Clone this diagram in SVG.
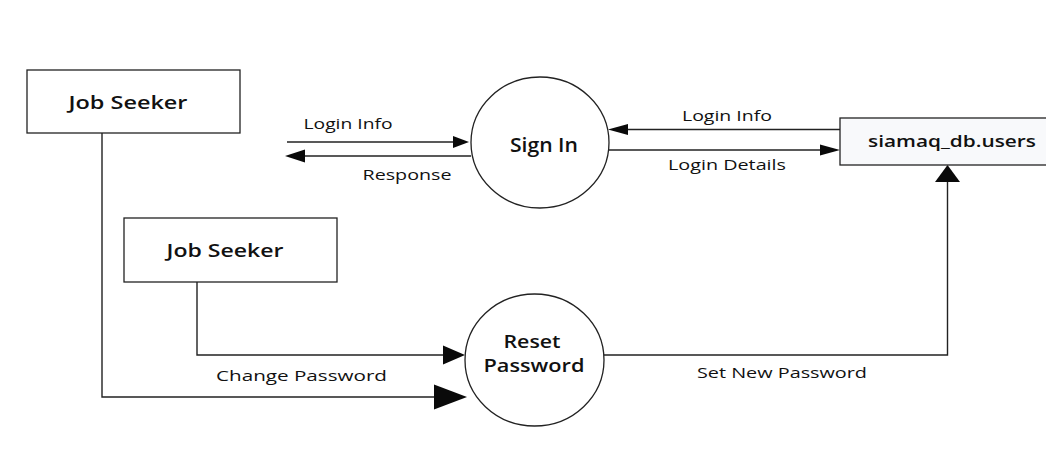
<svg xmlns="http://www.w3.org/2000/svg" width="1046" height="460" viewBox="0 0 1046 460">
<style>
.box{fill:#ffffff;stroke:#222;stroke-width:1.3}
.db{fill:#f8f9fb;stroke:#222;stroke-width:1.3}
.proc{fill:#ffffff;stroke:#222;stroke-width:1.3}
.ln{fill:none;stroke:#222;stroke-width:1.4}
.ah{fill:#0a0a0a;stroke:none}
.nt{font-family:"Open Sans","Noto Sans",sans-serif;font-weight:600;fill:#111;text-anchor:middle}
.lt{font-family:"Open Sans","Noto Sans",sans-serif;font-weight:400;fill:#111;text-anchor:middle;font-size:14.5px}
</style>
<rect width="1046" height="460" fill="#ffffff"/>
<g id="connectors">
  <line class="ln" x1="287" y1="142" x2="455" y2="142"/>
  <polygon class="ah" points="469,142 453,136 453,148"/>
  <line class="ln" x1="471" y1="156" x2="300" y2="156"/>
  <polygon class="ah" points="285,156 305,149.5 305,162.5"/>
  <line class="ln" x1="840" y1="129.5" x2="622" y2="129.5"/>
  <polygon class="ah" points="608,129.5 628,124 628,135"/>
  <line class="ln" x1="609" y1="150" x2="822" y2="150"/>
  <polygon class="ah" points="840,150 820,144.5 820,155.5"/>
  <polyline class="ln" points="604,355 947.5,355 947.5,180"/>
  <polygon class="ah" points="947.5,165 935,182 960,182"/>
  <polyline class="ln" points="197,282 197,355 448,355"/>
  <polygon class="ah" points="465,355 443,345.5 443,364.5"/>
  <polyline class="ln" points="102,133 102,397 440,397"/>
  <polygon class="ah" points="467,397 434,384.5 434,409.5"/>
  <text class="lt" x="348" y="129" textLength="89" lengthAdjust="spacingAndGlyphs">Login Info</text>
  <text class="lt" x="407" y="180" textLength="89" lengthAdjust="spacingAndGlyphs">Response</text>
  <text class="lt" x="727" y="121" textLength="90" lengthAdjust="spacingAndGlyphs">Login Info</text>
  <text class="lt" x="727" y="170" textLength="118" lengthAdjust="spacingAndGlyphs">Login Details</text>
  <text class="lt" x="301.5" y="381" textLength="171" lengthAdjust="spacingAndGlyphs">Change Password</text>
  <text class="lt" x="782" y="378" textLength="170" lengthAdjust="spacingAndGlyphs">Set New Password</text>
</g>
<g id="job-seeker-1">
  <rect class="box" x="27" y="70" width="213" height="63"/>
  <text class="nt" x="128" y="109" font-size="18" textLength="119" lengthAdjust="spacingAndGlyphs">Job Seeker</text>
</g>
<g id="job-seeker-2">
  <rect class="box" x="124" y="218" width="213" height="64"/>
  <text class="nt" x="225" y="257" font-size="18" textLength="117" lengthAdjust="spacingAndGlyphs">Job Seeker</text>
</g>
<g id="sign-in">
  <ellipse class="proc" cx="540" cy="142.5" rx="69" ry="65.5"/>
  <text class="nt" x="544" y="152" font-size="20" textLength="68" lengthAdjust="spacingAndGlyphs">Sign In</text>
</g>
<g id="reset-password">
  <ellipse class="proc" cx="534.5" cy="360" rx="69.5" ry="66"/>
  <text class="nt" x="532" y="348" font-size="18" textLength="57" lengthAdjust="spacingAndGlyphs">Reset</text>
  <text class="nt" x="534" y="372" font-size="18" textLength="101" lengthAdjust="spacingAndGlyphs">Password</text>
</g>
<g id="siamaq-db-users">
  <rect class="db" x="840" y="118" width="210" height="47"/>
  <text class="nt" x="952" y="147" font-size="16" textLength="168" lengthAdjust="spacingAndGlyphs">siamaq_db.users</text>
</g>
</svg>
